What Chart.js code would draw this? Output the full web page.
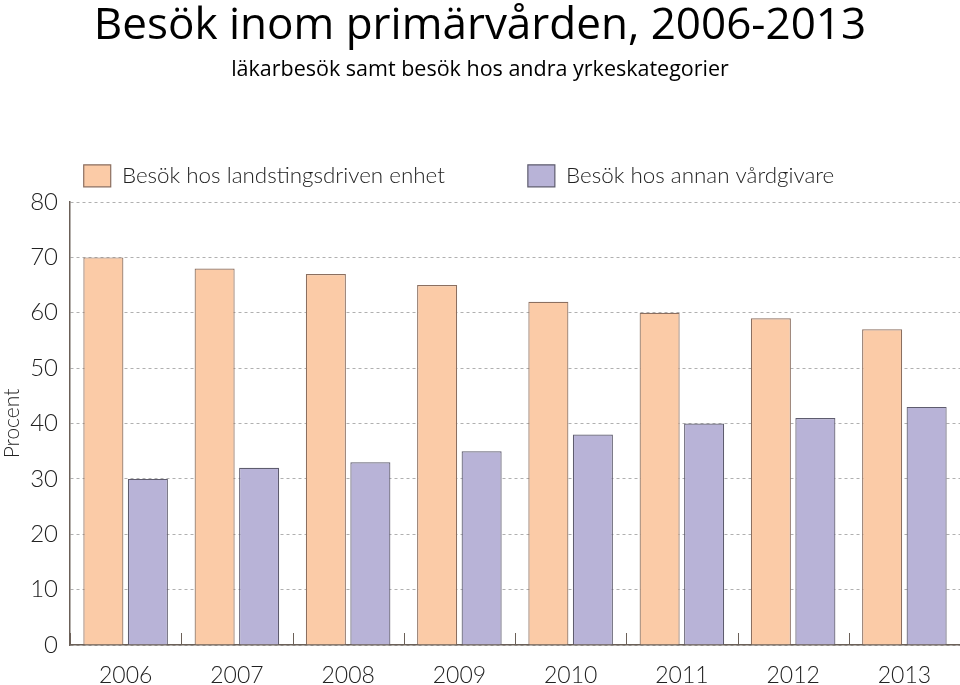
<html lang="sv">
<head>
  <meta charset="UTF-8">
  <title>Besök inom primärvården</title>
  <style>
    html, body { margin: 0; padding: 0; background: #fff; }
    #wrap { width: 960px; height: 685px; }
  </style>
</head>
<body>
  <div id="wrap"><canvas id="chart" width="960" height="685"></canvas></div>

  <script src="https://cdn.jsdelivr.net/npm/chart.js"></script>
  <script>
    // data
    const years = ['2006', '2007', '2008', '2009', '2010', '2011', '2012', '2013'];
    const landsting = [70, 68, 67, 65, 62, 60, 59, 57];
    const annan = [30, 32, 33, 35, 38, 40, 41, 43];
    const yTicks = [0, 10, 20, 30, 40, 50, 60, 70, 80];

    const textFont = 'Lato, "Noto Sans", sans-serif';
    const titleFont = '"Open Sans", "Noto Sans", sans-serif';

    // small upward tick marks between the categories on the x axis
    const innerTicks = {
      id: 'innerTicks',
      afterDatasetsDraw(chart) {
        const x = chart.scales.x;
        const ctx = chart.ctx;
        const half = (x.getPixelForValue(1) - x.getPixelForValue(0)) / 2;
        ctx.save();
        ctx.strokeStyle = '#6b6058';
        ctx.lineWidth = 1;
        for (let i = 0; i <= years.length; i++) {
          const px = Math.round(x.getPixelForValue(i) - half) + 0.5;
          ctx.beginPath();
          ctx.moveTo(px, x.top);
          ctx.lineTo(px, x.top - 12);
          ctx.stroke();
        }
        ctx.restore();
      }
    };

    // the legend in the reference sits a bit left of centre and close above the plot
    const legendShift = {
      id: 'legendShift',
      afterLayout(chart) {
        chart.legend.left -= 21;
        chart.legend.right -= 21;
        chart.legend.top -= 5;
        chart.legend.bottom -= 5;
      }
    };

    new Chart(document.getElementById('chart'), {
      type: 'bar',
      data: {
        labels: years,
        datasets: [{
          label: 'Besök hos landstingsdriven enhet',
          data: landsting,
          backgroundColor: '#fbcba7',
          borderColor: '#8b6f60',
          borderWidth: 1.2
        }, {
          label: 'Besök hos annan vårdgivare',
          data: annan,
          backgroundColor: '#b8b3d7',
          borderColor: '#5e5c6e',
          borderWidth: 1.2
        }]
      },
      options: {
        responsive: false,
        animation: false,
        layout: { padding: 0 },
        datasets: { bar: { categoryPercentage: 0.8, barPercentage: 0.9 } },
        plugins: {
          title: {
            display: true,
            text: 'Besök inom primärvården, 2006-2013',
            color: '#000',
            font: { family: titleFont, size: 44, weight: 'normal' },
            padding: { top: 0, bottom: 0 }
          },
          subtitle: {
            display: true,
            text: 'läkarbesök samt besök hos andra yrkeskategorier',
            color: '#000',
            font: { family: titleFont, size: 21.5, weight: 'normal' },
            padding: { top: 4, bottom: 4 }
          },
          legend: {
            position: 'top',
            labels: {
              boxWidth: 27,
              boxHeight: 22,
              padding: 83,
              color: '#222',
              font: { family: textFont, size: 22.4, weight: 300 }
            }
          },
          tooltip: { enabled: false }
        },
        scales: {
          x: {
            grid: { display: false, drawTicks: false },
            border: { display: true, color: '#6b6058', width: 1.5 },
            ticks: {
              color: '#222',
              padding: 17,
              font: { family: textFont, size: 23, weight: 300 }
            },
            afterFit(scale) { scale.height = 40; }
          },
          y: {
            min: 0,
            max: 80,
            afterBuildTicks(scale) { scale.ticks = yTicks.map(v => ({ value: v })); },
            grid: {
              color: '#b0b0b0',
              drawTicks: false,
              lineWidth: 1
            },
            border: { display: true, color: '#6b6058', width: 1.5, dash: [3, 3] },
            ticks: {
              color: '#222',
              padding: 12,
              font: { family: textFont, size: 24, weight: 300 }
            },
            title: {
              display: true,
              text: 'Procent',
              color: '#222',
              padding: 0,
              font: { family: textFont, size: 21, weight: 300 }
            },
            afterFit(scale) { scale.width = 70; }
          }
        }
      },
      plugins: [innerTicks, legendShift]
    });
  </script>
</body>
</html>
